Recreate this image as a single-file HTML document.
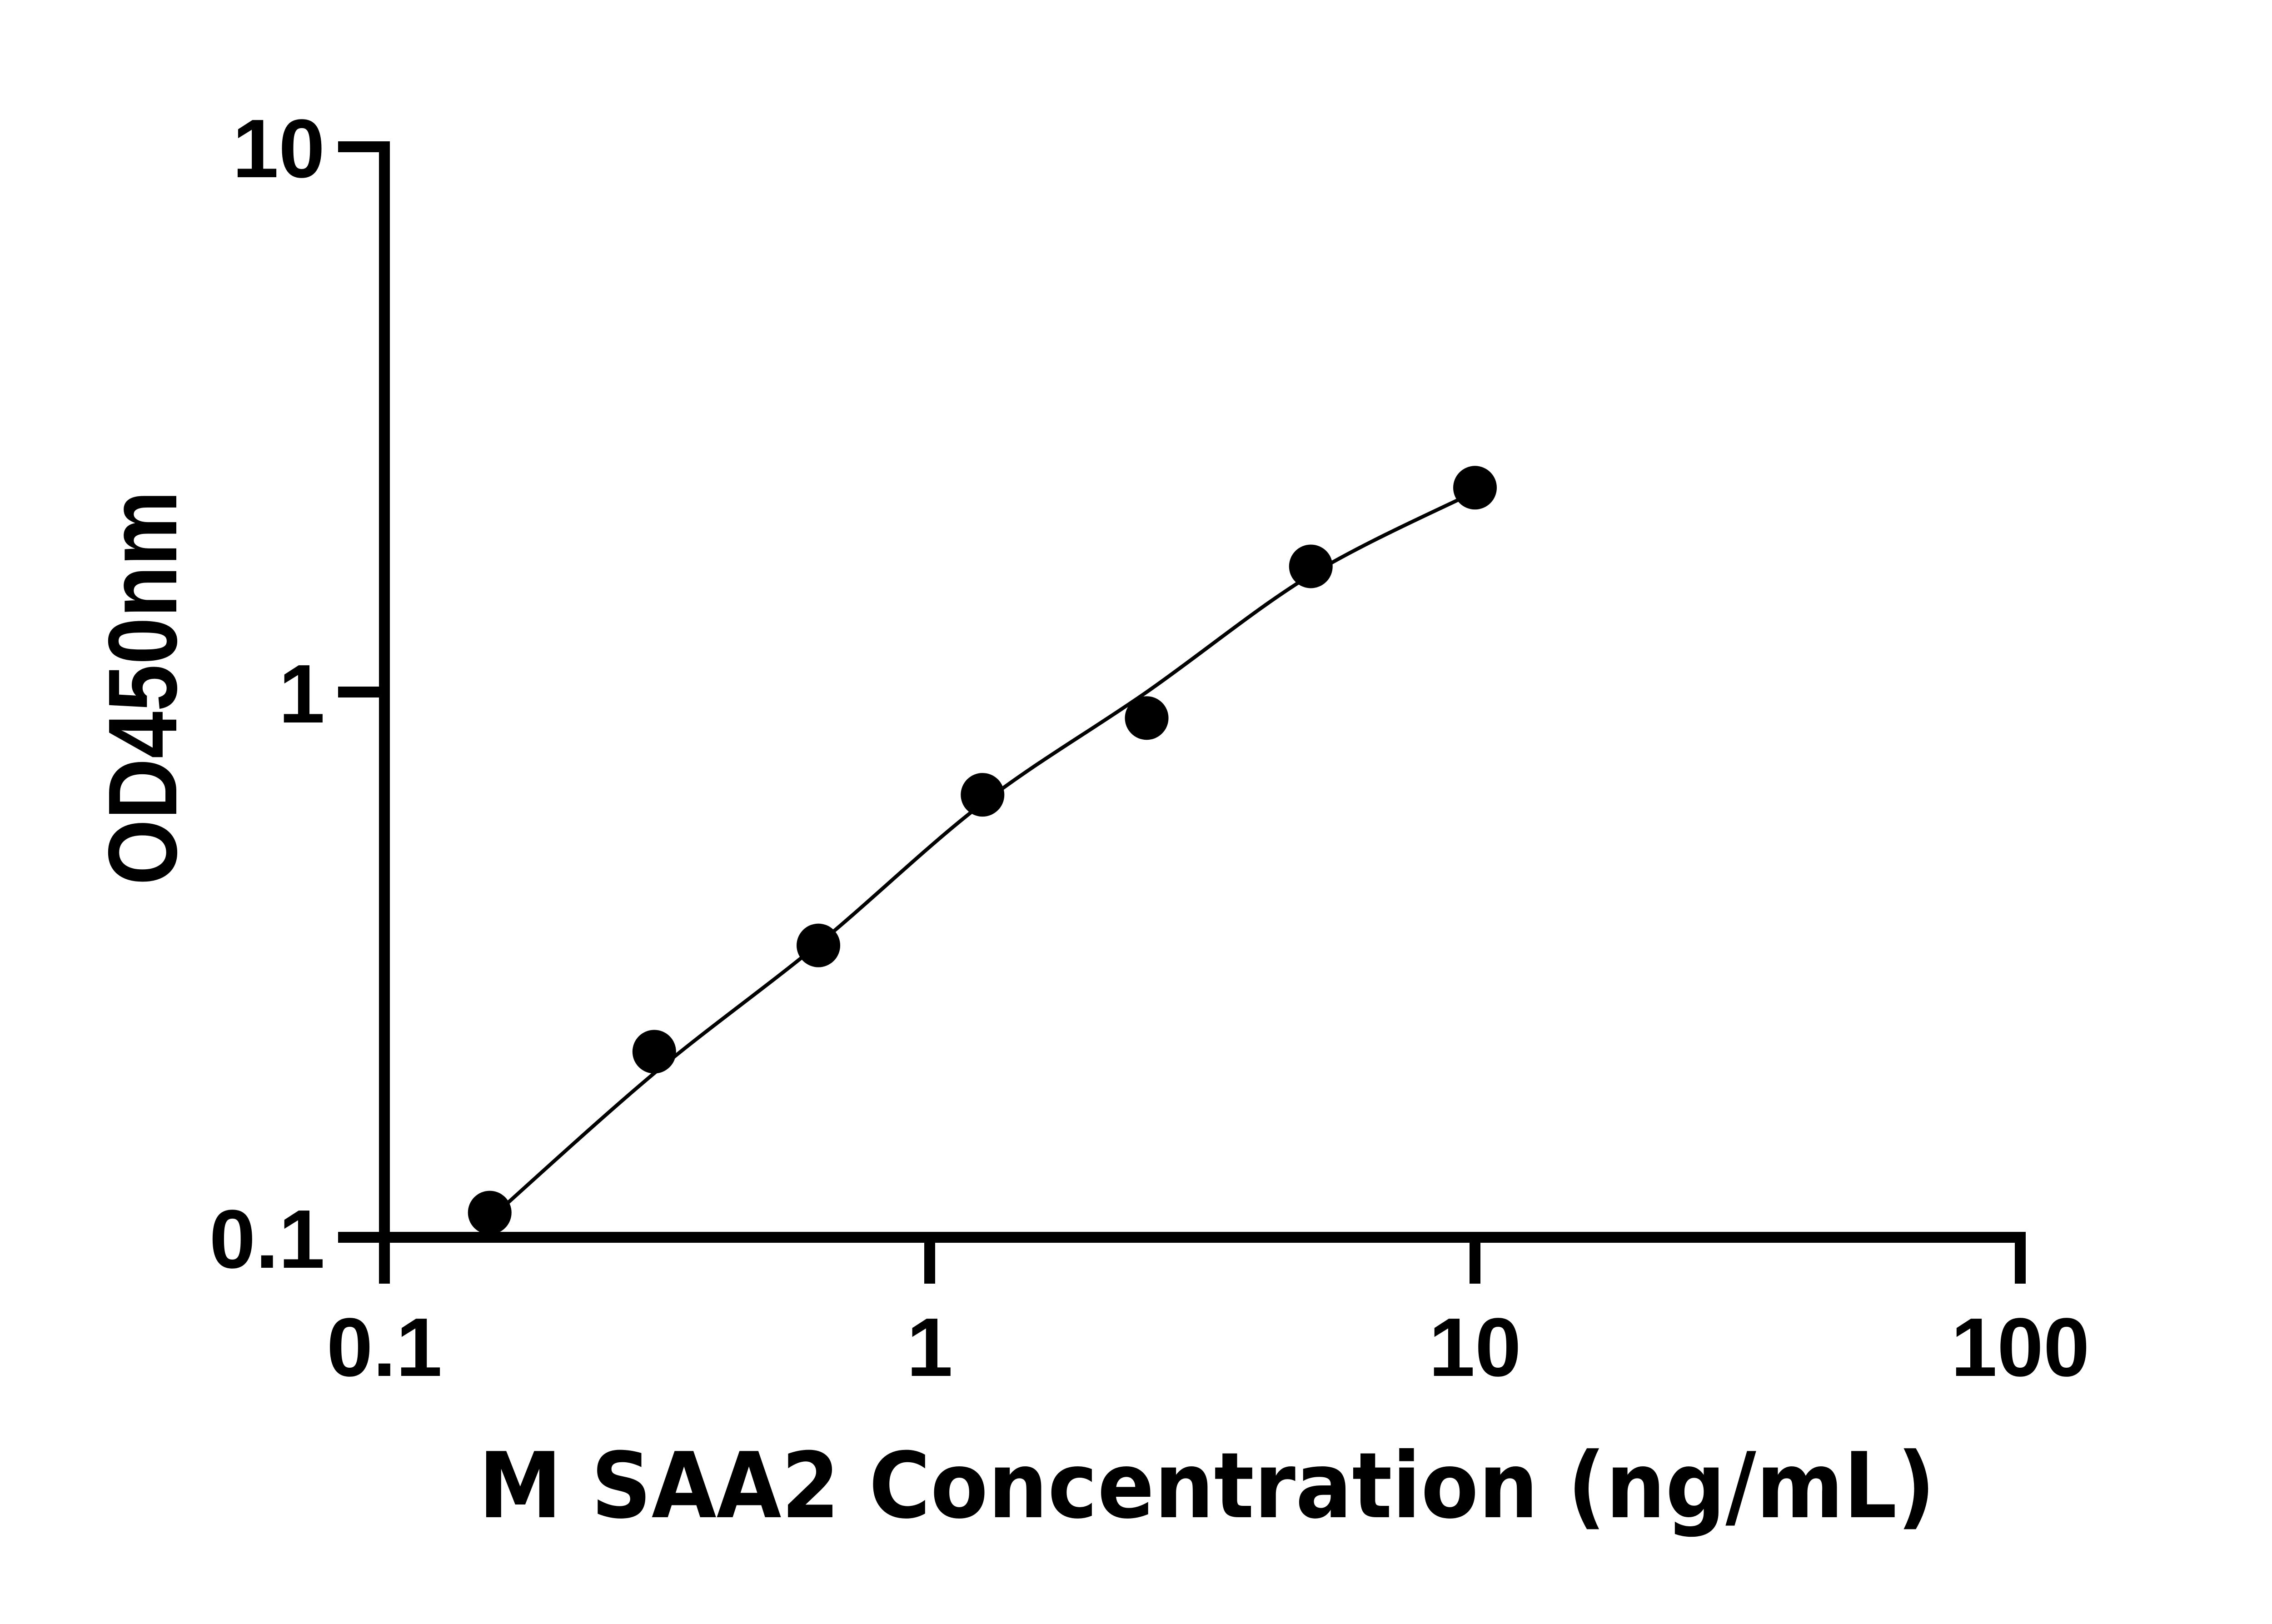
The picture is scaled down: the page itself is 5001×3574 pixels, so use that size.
<!DOCTYPE html>
<html><head><meta charset="utf-8"><style>
html,body{margin:0;padding:0;background:#fff;}
svg{display:block;}
</style></head><body>
<svg id="chart" width="5001" height="3574" viewBox="0 0 5001 3574" xmlns="http://www.w3.org/2000/svg">
<rect width="5001" height="3574" fill="#fff"/>
<g id="axes"></g>
<g id="curve"></g>
<g id="points"></g>
<text x="2656" y="3339" text-anchor="middle" font-family="'DejaVu Sans','Liberation Sans',sans-serif" font-weight="bold" font-size="200" textLength="3206" lengthAdjust="spacingAndGlyphs">M SAA2 Concentration (ng/mL)</text>
<text transform="translate(388,1514) rotate(-90)" text-anchor="middle" font-family="'Liberation Sans',sans-serif" font-weight="bold" font-size="215" textLength="868" lengthAdjust="spacingAndGlyphs">OD450nm</text>
</svg>
<script>
const xTicks = [0.1, 1, 10, 100];
const xTickLabels = ["0.1", "1", "10", "100"];
const yTicks = [0.1, 1, 10];
const yTickLabels = ["0.1", "1", "10"];
const concentrations = [0.156, 0.3125, 0.625, 1.25, 2.5, 5, 10];
const odValues = [0.111, 0.219, 0.343, 0.648, 0.896, 1.70, 2.37];
const fitValues = [0.108, 0.200, 0.345, 0.625, 1.0, 1.64, 2.33];

const NS = "http://www.w3.org/2000/svg";
const X0 = 846, XDEC = 1200, Y0 = 2723, YDEC = 1200;
function xs(v){ return X0 + (Math.log10(v) + 1) * XDEC; }
function ys(v){ return Y0 - (Math.log10(v) + 1) * YDEC; }
function mk(tag, attrs, parent){
  const e = document.createElementNS(NS, tag);
  for (const k in attrs) e.setAttribute(k, attrs[k]);
  parent.appendChild(e);
  return e;
}
const axes = document.getElementById('axes');
const xMin = xs(xTicks[0]), xMax = xs(xTicks[xTicks.length-1]);
const yMin = ys(yTicks[0]), yMax = ys(yTicks[yTicks.length-1]);
const yAxis = mk('line', {x1:xMin, y1:yMax-12, x2:xMin, y2:yMin+102, stroke:'#000','stroke-width':24}, axes);


const xAxis = mk('line', {x1:xMin-102, y1:yMin, x2:xMax+12, y2:yMin, stroke:'#000','stroke-width':24}, axes);


xTicks.forEach((t,i)=>{
  const x = xs(t);
  const tk = mk('line', {x1:x, y1:yMin, x2:x, y2:yMin+102, stroke:'#000','stroke-width':24}, axes);
  
  
  const lb = mk('text', {x:x, y:yMin+305, 'text-anchor':'middle', 'font-family':"'Liberation Sans',sans-serif", 'font-weight':'bold', 'font-size':183}, axes);
  lb.textContent = xTickLabels[i];
  
  
});
yTicks.forEach((t,i)=>{
  const y = ys(t);
  const tk = mk('line', {x1:xMin-102, y1:y, x2:xMin, y2:y, stroke:'#000','stroke-width':24}, axes);
  
  
  const lb = mk('text', {x:715, y:y+67, 'text-anchor':'end', 'font-family':"'Liberation Sans',sans-serif", 'font-weight':'bold', 'font-size':183}, axes);
  lb.textContent = yTickLabels[i];
  
  
});
// fit curve via Catmull-Rom
const pts = concentrations.map((c,i)=>[xs(c), ys(fitValues[i])]);
let d = 'M' + pts[0][0] + ',' + pts[0][1];
for (let i=0;i<pts.length-1;i++){
  const p0 = pts[Math.max(0,i-1)], p1 = pts[i], p2 = pts[i+1], p3 = pts[Math.min(pts.length-1,i+2)];
  const c1x = p1[0] + (p2[0]-p0[0])/6, c1y = p1[1] + (p2[1]-p0[1])/6;
  const c2x = p2[0] - (p3[0]-p1[0])/6, c2y = p2[1] - (p3[1]-p1[1])/6;
  d += ' C' + c1x + ',' + c1y + ' ' + c2x + ',' + c2y + ' ' + p2[0] + ',' + p2[1];
}
const curveG = document.getElementById('curve');
const path = mk('path', {d:d, fill:'none', stroke:'#000', 'stroke-width':8}, curveG);


const ptsG = document.getElementById('points');
concentrations.forEach((c,i)=>{
  const cc = mk('circle', {cx:xs(c), cy:ys(odValues[i]), r:48, fill:'#000'}, ptsG);
  
  
});
</script>
</body></html>
